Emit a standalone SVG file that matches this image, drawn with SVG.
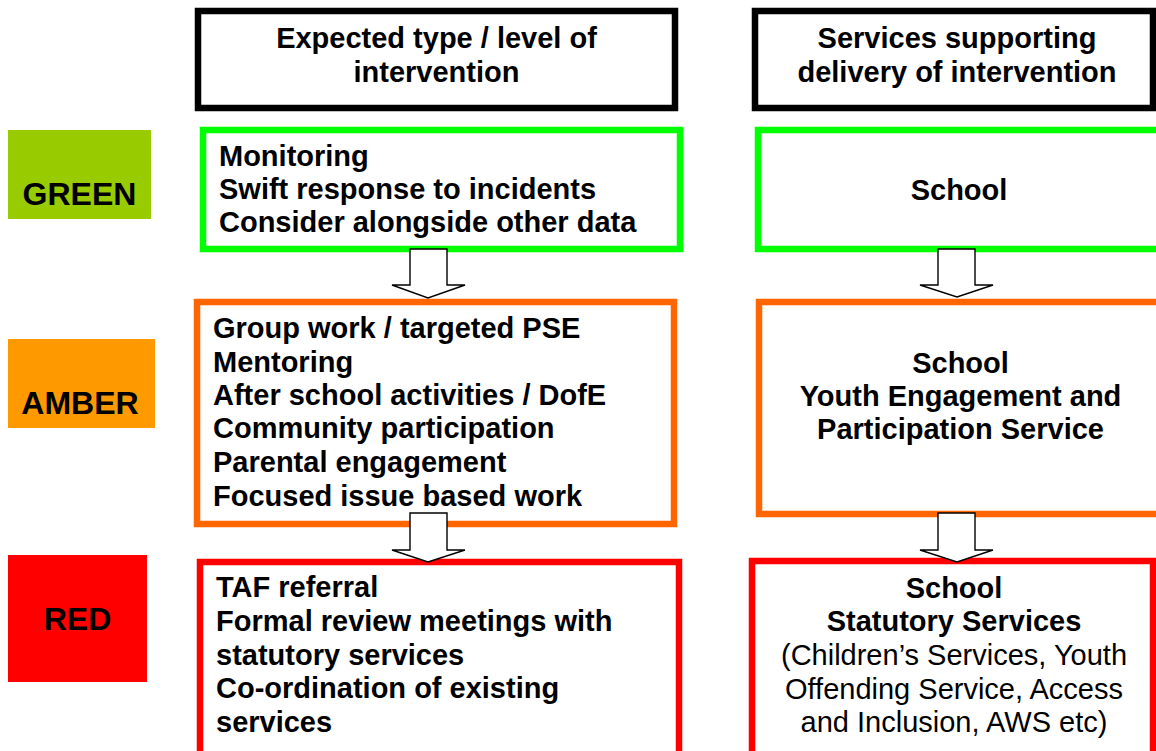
<svg xmlns="http://www.w3.org/2000/svg" width="1156" height="751" viewBox="0 0 1156 751">
  <style>
    text { font-family: "Liberation Sans", Arial, sans-serif; font-size: 29px; fill: #000; }
    .b { font-weight: bold; }
    .c { text-anchor: middle; }
    .lbl { font-size: 32px; font-weight: bold; text-anchor: middle; }
    .box { fill: #fff; stroke-width: 6.5; }
    .hdr { stroke: #000; }
    .g { stroke: #00ff00; }
    .a { stroke: #ff6600; }
    .r { stroke: #ff0000; }
    .arrow { fill: #fff; stroke: #000; stroke-width: 1.4; stroke-linejoin: miter; }
  </style>

  <!-- column headers -->
  <g id="hdr-intervention">
    <rect class="box hdr" x="198" y="11" width="477" height="97"/>
    <text class="b c" x="436.5" y="48">Expected type / level of</text>
    <text class="b c" x="436.5" y="82">intervention</text>
  </g>
  <g id="hdr-services">
    <rect class="box hdr" x="755" y="11" width="398" height="97"/>
    <text class="b c" x="957" y="48">Services supporting</text>
    <text class="b c" x="957" y="82">delivery of intervention</text>
  </g>

  <!-- level labels -->
  <g id="lbl-green">
    <rect x="8" y="130" width="143" height="89" fill="#99cc00"/>
    <text class="lbl" x="79.5" y="205">GREEN</text>
  </g>
  <g id="lbl-amber">
    <rect x="8" y="339" width="147" height="89" fill="#ff9900"/>
    <text class="lbl" x="80" y="414">AMBER</text>
  </g>
  <g id="lbl-red">
    <rect x="8" y="555" width="139" height="127" fill="#ff0000"/>
    <text class="lbl" x="77.5" y="630">RED</text>
  </g>

  <!-- green level -->
  <g id="green-intervention">
    <rect class="box g" x="203" y="130" width="477" height="119"/>
    <text class="b" x="219" y="166">Monitoring</text>
    <text class="b" x="219" y="199">Swift response to incidents</text>
    <text class="b" x="219" y="232">Consider alongside other data</text>
  </g>
  <g id="green-services">
    <rect class="box g" x="758" y="130" width="420" height="119"/>
    <text class="b c" x="959" y="200">School</text>
  </g>

  <!-- amber level -->
  <g id="amber-intervention">
    <rect class="box a" x="197" y="302" width="477" height="222"/>
    <text class="b" x="213" y="338">Group work / targeted PSE</text>
    <text class="b" x="213" y="372">Mentoring</text>
    <text class="b" x="213" y="405">After school activities / DofE</text>
    <text class="b" x="213" y="438">Community participation</text>
    <text class="b" x="213" y="472">Parental engagement</text>
    <text class="b" x="213" y="506">Focused issue based work</text>
  </g>
  <g id="amber-services">
    <rect class="box a" x="759" y="302" width="420" height="212"/>
    <text class="b c" x="960.5" y="373">School</text>
    <text class="b c" x="960.5" y="406">Youth Engagement and</text>
    <text class="b c" x="960.5" y="439">Participation Service</text>
  </g>

  <!-- red level -->
  <g id="red-intervention">
    <rect class="box r" x="200" y="562" width="479" height="200"/>
    <text class="b" x="216" y="597">TAF referral</text>
    <text class="b" x="216" y="631">Formal review meetings with</text>
    <text class="b" x="216" y="665">statutory services</text>
    <text class="b" x="216" y="698">Co-ordination of existing</text>
    <text class="b" x="216" y="732">services</text>
  </g>
  <g id="red-services">
    <rect class="box r" x="752" y="561" width="401" height="200"/>
    <text class="b c" x="954" y="598">School</text>
    <text class="b c" x="954" y="631">Statutory Services</text>
    <text class="c" x="954" y="665">(Children’s Services, Youth</text>
    <text class="c" x="954" y="699">Offending Service, Access</text>
    <text class="c" x="954" y="732">and Inclusion, AWS etc)</text>
  </g>

  <!-- block arrows between levels -->
  <g id="connectors">
    <path class="arrow" d="M410,249 H447 V285 H465 L428,298 L392,285 H410 Z"/>
    <path class="arrow" d="M410,513 H447 V550 H465 L428,562 L392,550 H410 Z"/>
    <path class="arrow" d="M938,249 H975 V285 H993 L957,297 L920,285 H938 Z"/>
    <path class="arrow" d="M938,513 H975 V550 H993 L957,562 L920,550 H938 Z"/>
  </g>
</svg>
